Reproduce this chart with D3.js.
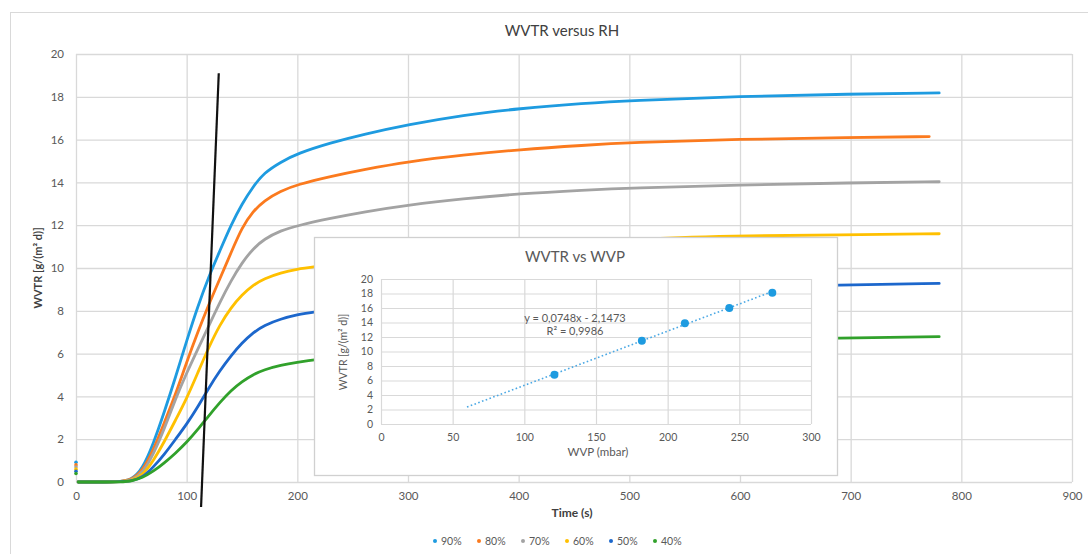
<!DOCTYPE html>
<html><head><meta charset="utf-8">
<script src="https://cdn.jsdelivr.net/npm/d3@7/dist/d3.min.js"></script>
<style>
body{margin:0;background:#fff;}
svg{display:block;font-family:Lato,"Open Sans","Liberation Sans",sans-serif;}
</style>
</head><body>
<svg id="chart" width="1088" height="554"></svg>
<script>
// ---------- data ----------
const seriesNames = ["90%", "80%", "70%", "60%", "50%", "40%"];
const seriesColors = ["#1e9be0", "#fb7a1e", "#a3a3a3", "#ffc000", "#1c67cc", "#31a12b"];

const rh90 = [[0,0.92],[2,0],[40,0],[50,0.1],[60,0.6],[70,1.8],[80,3.3],[90,4.9],[100,6.6],[110,8.2],[120,9.6],[130,10.8],[140,12.0],[150,13.0],[160,13.8],[170,14.45],[185,14.95],[200,15.35],[230,15.85],[260,16.25],[300,16.7],[350,17.15],[400,17.45],[460,17.7],[500,17.82],[600,18.02],[700,18.13],[780,18.18]];
const rh80 = [[0,0.8],[2,0],[40,0],[50,0.1],[60,0.5],[70,1.5],[80,2.8],[90,4.1],[100,5.6],[110,7.0],[120,8.3],[130,9.5],[140,10.7],[150,11.9],[160,12.65],[170,13.15],[185,13.6],[200,13.9],[230,14.28],[260,14.6],[300,14.97],[350,15.28],[400,15.53],[460,15.74],[500,15.86],[600,16.02],[700,16.1],[771,16.14]];
const rh70 = [[0,0.7],[2,0],[40,0],[50,0.08],[60,0.4],[70,1.3],[80,2.5],[90,3.9],[100,5.1],[110,6.2],[120,7.3],[130,8.4],[140,9.4],[150,10.25],[160,10.9],[170,11.35],[185,11.75],[200,11.98],[230,12.32],[260,12.62],[300,12.94],[350,13.24],[400,13.47],[460,13.64],[500,13.74],[600,13.88],[700,13.98],[780,14.03]];
const rh60 = [[0,0.6],[2,0],[40,0],[50,0.06],[60,0.3],[70,1.0],[80,1.9],[90,2.9],[100,3.9],[110,5.1],[120,6.3],[130,7.35],[140,8.15],[150,8.75],[160,9.2],[170,9.5],[185,9.78],[200,9.95],[214,10.05],[250,10.3],[300,10.65],[400,11.08],[500,11.33],[560,11.45],[600,11.5],[690,11.55],[780,11.6]];
const rh50 = [[0,0.5],[2,0],[40,0],[50,0.05],[60,0.2],[70,0.7],[80,1.3],[90,2.0],[100,2.7],[110,3.5],[120,4.4],[130,5.2],[140,5.9],[150,6.5],[160,6.98],[170,7.32],[185,7.62],[200,7.82],[214,7.94],[250,8.2],[300,8.5],[400,8.85],[500,9.0],[600,9.12],[690,9.2],[780,9.28]];
const rh40 = [[0,0.4],[2,0],[45,0],[50,0.05],[60,0.2],[70,0.5],[80,0.9],[90,1.35],[100,1.85],[110,2.45],[120,3.1],[130,3.72],[140,4.28],[150,4.7],[160,5.02],[170,5.25],[185,5.46],[200,5.6],[214,5.7],[300,6.18],[400,6.44],[500,6.58],[600,6.66],[690,6.72],[780,6.79]];
const seriesData = [rh90, rh80, rh70, rh60, rh50, rh40];

const xTicks = [0,100,200,300,400,500,600,700,800,900];
const yTicks = [0,2,4,6,8,10,12,14,16,18,20];

// hand-drawn guide line (time, WVTR)
const guideT = [129, 113];
const guideV = [19.1, -1.17];

// inset: WVTR vs WVP
const insetWVP = [121, 182, 212, 243, 273];
const insetWVTR = [6.8, 11.5, 13.9, 16.0, 18.1];
const trendSlope = 0.0748, trendIntercept = -2.1473;
const trendRange = [60, 273];
const insetXTicks = [0,50,100,150,200,250,300];
const insetYTicks = [0,2,4,6,8,10,12,14,16,18,20];

// ---------- drawing ----------
const svg = d3.select("#chart");
const gridColor = "#d9d9d9", textColor = "#595959";

svg.append("rect").attr("x",10.5).attr("y",12.5).attr("width",1090).attr("height",560)
  .attr("fill","#fff").attr("stroke","#d9d9d9");

const x = d3.scaleLinear().domain([0,900]).range([76,1072]);
const y = d3.scaleLinear().domain([0,20]).range([482,54]);

const gy = svg.append("g").attr("transform","translate(76,0)")
  .call(d3.axisLeft(y).tickValues(yTicks).tickSize(-(1072-76)).tickPadding(12));
gy.select(".domain").remove();
gy.selectAll("line").attr("stroke",gridColor).attr("stroke-width",1.3);
gy.selectAll("text").attr("fill",textColor).attr("font-size",11.5).attr("font-family","Lato, 'Open Sans', sans-serif");

const gx = svg.append("g").attr("transform","translate(0,482)")
  .call(d3.axisBottom(x).tickValues(xTicks).tickSize(-(482-54)).tickPadding(10));
gx.select(".domain").remove();
gx.selectAll("line").attr("stroke",gridColor).attr("stroke-width",1.3);
gx.selectAll("text").attr("fill",textColor).attr("font-size",11.5).attr("font-family","Lato, 'Open Sans', sans-serif");

// series
const line = d3.line().x(d=>x(d[0])).y(d=>y(d[1])).curve(d3.curveBasis);
seriesData.forEach((s,i)=>{
  svg.append("path").datum(s.slice(1)).attr("d",line)
    .attr("fill","none").attr("stroke",seriesColors[i]).attr("stroke-width",2.8)
    .attr("stroke-linejoin","round").attr("stroke-linecap","round");
  svg.append("circle").attr("cx",x(s[0][0])).attr("cy",y(s[0][1])).attr("r",1.8)
    .attr("fill",seriesColors[i]);
});

// guide line
svg.append("line")
  .attr("x1",x(guideT[0])).attr("y1",y(guideV[0]))
  .attr("x2",x(guideT[1])).attr("y2",y(guideV[1]))
  .attr("stroke","#111").attr("stroke-width",2.2);

// titles
svg.append("text").attr("x",562).attr("y",36).attr("text-anchor","middle")
  .attr("font-size",15).attr("fill","#404040").text("WVTR versus RH");
svg.append("text").attr("transform","translate(42,268) rotate(-90)").attr("text-anchor","middle")
  .attr("font-size",11).attr("font-weight",700).attr("fill","#404040").text("WVTR [g/(m² d)]");
svg.append("text").attr("x",572).attr("y",517).attr("text-anchor","middle")
  .attr("font-size",12).attr("font-weight",700).attr("fill","#404040").text("Time (s)");

// legend
const lg = svg.append("g");
seriesNames.forEach((n,i)=>{
  const lx = 435 + i*44;
  lg.append("circle").attr("cx",lx).attr("cy",541).attr("r",2).attr("fill",seriesColors[i]);
  lg.append("text").attr("x",lx+6).attr("y",545).attr("font-size",10.5).attr("fill",textColor).text(n);
});

// ---------- inset ----------
const ins = svg.append("g");
ins.append("rect").attr("x",314.5).attr("y",237.5).attr("width",523).attr("height",238)
  .attr("fill","#fff").attr("stroke","#d0d0d0").attr("stroke-width",1.3);

const xi = d3.scaleLinear().domain([0,300]).range([381,811]);
const yi = d3.scaleLinear().domain([0,20]).range([424,279]);

const giy = ins.append("g").attr("transform","translate(381,0)")
  .call(d3.axisLeft(yi).tickValues(insetYTicks).tickSize(-(811-381)).tickPadding(8));
giy.select(".domain").remove();
giy.selectAll("line").attr("stroke",gridColor).attr("stroke-width",1.2);
giy.selectAll("text").attr("fill",textColor).attr("font-size",10.5).attr("font-family","Lato, 'Open Sans', sans-serif");

const gix = ins.append("g").attr("transform","translate(0,424)")
  .call(d3.axisBottom(xi).tickValues(insetXTicks).tickSize(-(424-279)).tickPadding(10));
gix.select(".domain").remove();
gix.selectAll("line").attr("stroke",gridColor).attr("stroke-width",1.2);
gix.selectAll("text").attr("fill",textColor).attr("font-size",10.5).attr("font-family","Lato, 'Open Sans', sans-serif");

const trendPts = trendRange.map(v=>[v, trendSlope*v + trendIntercept]);
ins.append("line")
  .attr("x1",xi(trendPts[0][0])).attr("y1",yi(trendPts[0][1]))
  .attr("x2",xi(trendPts[1][0])).attr("y2",yi(trendPts[1][1]))
  .attr("stroke","#4aa8e4").attr("stroke-width",1.6).attr("stroke-dasharray","1.6,2.4");

insetWVP.forEach((v,i)=>{
  ins.append("circle").attr("cx",xi(v)).attr("cy",yi(insetWVTR[i])).attr("r",4)
    .attr("fill","#1e9be0");
});

ins.append("text").attr("x",575).attr("y",262).attr("text-anchor","middle")
  .attr("font-size",15).attr("fill","#595959").text("WVTR vs WVP");
ins.append("text").attr("x",575).attr("y",322).attr("text-anchor","middle")
  .attr("font-size",11).attr("fill",textColor).text("y = 0,0748x - 2,1473");
ins.append("text").attr("x",575).attr("y",335).attr("text-anchor","middle")
  .attr("font-size",11).attr("fill",textColor).text("R² = 0,9986");
ins.append("text").attr("transform","translate(347,352) rotate(-90)").attr("text-anchor","middle")
  .attr("font-size",10.5).attr("fill",textColor).text("WVTR [g/(m² d)]");
ins.append("text").attr("x",598).attr("y",456).attr("text-anchor","middle")
  .attr("font-size",11.5).attr("fill",textColor).text("WVP (mbar)");
</script>
</body></html>
